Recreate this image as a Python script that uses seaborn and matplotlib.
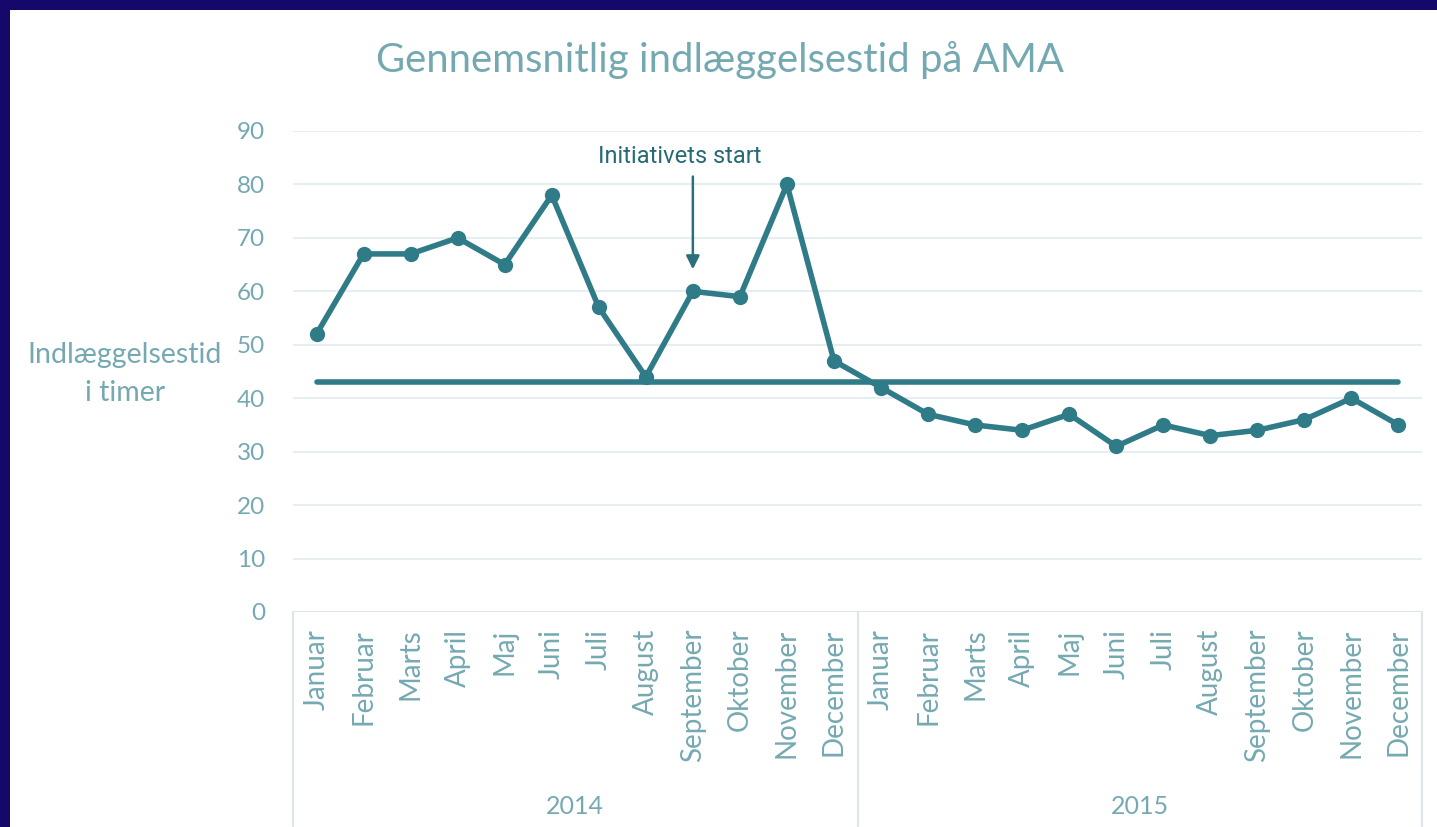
import seaborn as sns
import matplotlib.pyplot as plt
import pandas as pd
from matplotlib.patches import Rectangle

# | Data |----------------------------------------------------------------------------------------------------------|
months = ["Januar", "Februar", "Marts", "April", "Maj", "Juni", "Juli", "August",
          "September", "Oktober", "November", "December"]
years = ["2014", "2015"]
hours_2014 = [52, 67, 67, 70, 65, 78, 57, 44, 60, 59, 80, 47]
hours_2015 = [42, 37, 35, 34, 37, 31, 35, 33, 34, 36, 40, 35]
average_hours = 43
start_month = "September"
start_year = "2014"
# |-----------------------------------------------------------------------------------------------------------------|

LINE = "#2f7c88"
TEXT = "#75a9b2"
GRID = "#e6eef1"
FRAME = "#dce6ea"

df = pd.DataFrame({
    "month": months * 2,
    "year": [years[0]] * 12 + [years[1]] * 12,
    "hours": hours_2014 + hours_2015,
})
df["pos"] = range(len(df))

sns.set_theme(style="white")
plt.rcParams["font.family"] = ["Lato", "DejaVu Sans"]

fig = plt.figure(figsize=(14.37, 8.27), dpi=100, facecolor="#14086a")
fig.patches.append(Rectangle((10 / 1437, 0), 1, 1 - 10 / 827, transform=fig.transFigure,
                             facecolor="white", edgecolor="none", zorder=-10))

ax = fig.add_axes([293 / 1437, 1 - 612 / 827, (1422 - 293) / 1437, (612 - 131) / 827])
ax.set_facecolor("none")
ax.set_zorder(1)

for v in range(10, 100, 10):
    ax.axhline(v, color=GRID, lw=1.5, zorder=1)

sns.lineplot(data=df, x="pos", y="hours", ax=ax, color=LINE, lw=4, marker="o",
             markersize=11, markeredgewidth=0, zorder=4)

ax.plot([df["pos"].iloc[0], df["pos"].iloc[-1]], [average_hours, average_hours],
        color=LINE, lw=4, solid_capstyle="round", zorder=3)

ax.set_xlim(-0.5, len(df) - 0.5)
ax.set_ylim(0, 90)
ax.set_yticks(range(0, 100, 10))
ax.set_xticks(df["pos"])
ax.set_xticklabels(df["month"], rotation=90, va="top")
ax.tick_params(axis="x", colors=TEXT, labelsize=20, length=0, pad=12)
ax.tick_params(axis="y", colors=TEXT, labelsize=17.5, length=0, pad=20)
ax.set_xlabel("")
ax.set_ylabel("")
for s in ax.spines.values():
    s.set_visible(False)

# category frame below the axis
ax.axhline(0, color=FRAME, lw=1.5, zorder=2)
for x in [-0.5, 11.5, 23.5]:
    ax.plot([x, x], [0, -40], color=FRAME, lw=1.5, clip_on=False)
for i, yr in enumerate(years):
    ax.text(5.5 + 12 * i, -36.3, yr, ha="center", va="center", color=TEXT, fontsize=18)

# initiative start marker
x_start = df[(df["month"] == start_month) & (df["year"] == start_year)]["pos"].iloc[0]
ax.annotate("", xy=(x_start, 63.6), xytext=(x_start, 82),
            arrowprops=dict(arrowstyle="-|>", color="#2a6f7b", lw=1.8, mutation_scale=20))
ax.text(x_start - 0.27, 85.3, "Initiativets start", ha="center", va="center", color="#266a76",
        fontsize=17, family=["Liberation Sans Narrow", "Roboto", "DejaVu Sans"])

fig.text(720 / 1437, 1 - 60 / 827, "Gennemsnitlig indlæggelsestid på AMA", ha="center", va="center",
         color=TEXT, fontsize=28.8)
fig.text(125 / 1437, 1 - 374 / 827, "Indlæggelsestid\ni timer", ha="center", va="center",
         color=TEXT, fontsize=20.5, linespacing=1.55)

fig.savefig("out.png", dpi=100, facecolor=fig.get_facecolor())
